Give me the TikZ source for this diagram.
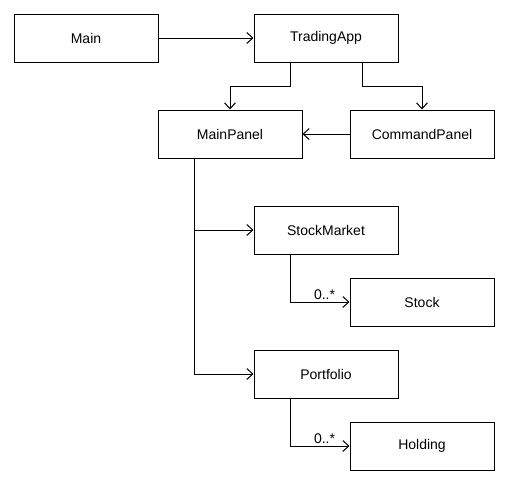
\documentclass[tikz,border=0pt]{standalone}
\usepackage{fontspec}
\setmainfont{Liberation Sans}
\usetikzlibrary{arrows.meta}

\tikzset{
	cls/.style={draw,line width=1pt,minimum width=144pt,minimum height=48pt,inner sep=0pt,font=\fontsize{14}{16}\selectfont},
	arr/.style={line width=1pt,-{Straight Barb[length=6pt,width=11pt,line width=1pt]}},
	mult/.style={font=\fontsize{14}{16}\selectfont,inner sep=2pt}
}

\begin{document}
\begin{tikzpicture}[x=1pt,y=1pt]
		\useasboundingbox (0,0) rectangle (516,-488);
		\node[cls] (Mn) at (86,-38) {Main};
		\node[cls] (Ta) at (326,-38) {TradingApp};
		\node[cls] (Mp) at (230,-134) {MainPanel};
		\node[cls] (Cp) at (422,-134) {CommandPanel};
		\node[cls] (Sm) at (326,-230) {StockMarket};
		\node[cls] (St) at (422,-302) {Stock};
		\node[cls] (Pf) at (326,-374) {Portfolio};
		\node[cls] (Hd) at (422,-446) {Holding};
		
		\draw [arr] (Mn) -- (Ta);
		\draw [arr] ([xshift=-36pt]Ta.south) -- ++(0,-24) -| (Mp.north);
		\draw [arr] ([xshift=36pt]Ta.south) -- ++(0,-24) -| (Cp.north);
		\draw [arr] (Cp) -- (Mp);
		
		\draw [arr] ([xshift=-36pt]Mp.south) |- (Sm.west);
		\draw [arr] ([xshift=-36pt]Mp.south) |- (Pf.west);
		
		\draw [arr] ([xshift=-36pt]Sm.south) |- (St.west) node[pos=0.79,above,mult] {0..*};
		\draw [arr] ([xshift=-36pt]Pf.south) |- (Hd.west) node[pos=0.79,above,mult] {0..*};
\end{tikzpicture}
\end{document}
